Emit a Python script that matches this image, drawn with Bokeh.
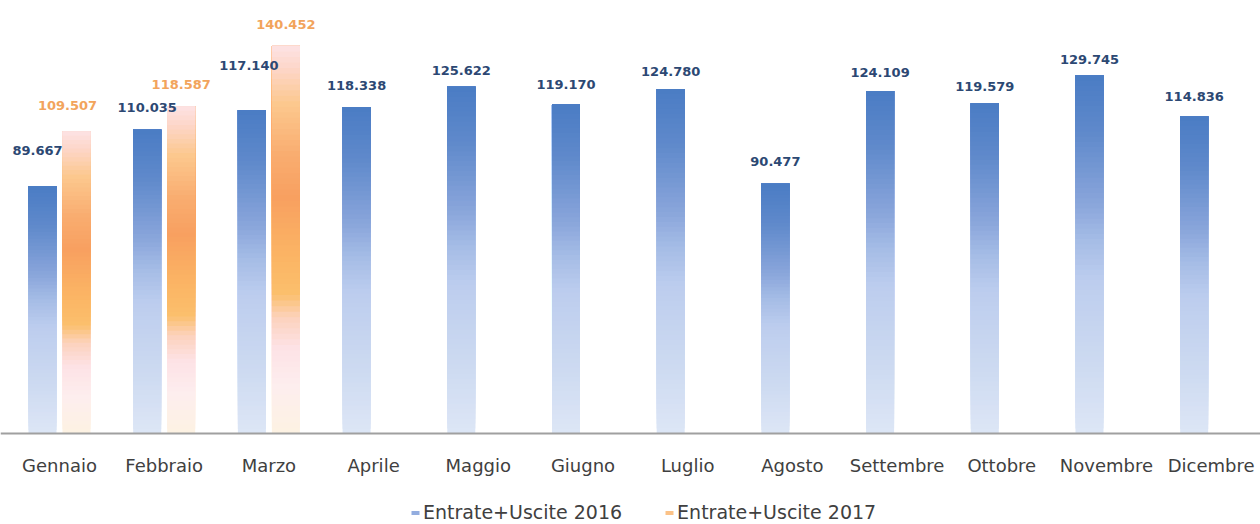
import numpy as np
from bokeh.plotting import figure
from bokeh.models import (ColumnDataSource, FixedTicker, Legend, LegendItem,
                          Range1d, LabelSet)
from bokeh.core.properties import value
from bokeh.embed import file_html
from bokeh.resources import INLINE

# ---------------- data ----------------
months = ["Gennaio", "Febbraio", "Marzo", "Aprile", "Maggio", "Giugno",
          "Luglio", "Agosto", "Settembre", "Ottobre", "Novembre", "Dicembre"]
values_2016 = [89667, 110035, 117140, 118338, 125622, 119170,
               124780, 90477, 124109, 119579, 129745, 114836]
values_2017 = [109507, 118587, 140452]
series_names = ["Entrate+Uscite 2016", "Entrate+Uscite 2017"]

# ---------------- styles ----------------
blue_stops = [(0.00, "#dde6f6"), (0.23, "#cad8f0"), (0.43, "#bccdee"),
              (0.54, "#a5bce6"), (0.64, "#8aa6db"), (0.84, "#5f89cb"),
              (1.00, "#4a7cc4")]
orange_stops = [(0.00, "#fdf2e2"), (0.12, "#fdeeee"), (0.22, "#fde2e6"),
                (0.30, "#fcd2bc"), (0.36, "#fbbf6c"), (0.46, "#fbb464"),
                (0.61, "#f8a060"), (0.72, "#f9ad70"), (0.85, "#fcc88e"),
                (0.94, "#fdd6c8"), (1.00, "#fde2e4")]
blue_label_dy = [36, 22, 45, 21, 16, 20, 18, 22, 18, 17, 16, 20]
blue_label_dx = [-5, 0, -3, 0, 0, 0, 0, 0, 0, 0, 0, 0]
orange_label_dy = [26, 22, 21]
orange_label_dx = [-9, 0, 0]
BAR_W = 0.2675
OFFSET = 0.1624
NSEG = 70


def hex2rgb(h):
    h = h.lstrip("#")
    return np.array([int(h[i:i + 2], 16) for i in (0, 2, 4)], dtype=float)


def interp_color(stops, f):
    for (f0, c0), (f1, c1) in zip(stops[:-1], stops[1:]):
        if f0 <= f <= f1:
            t = 0 if f1 == f0 else (f - f0) / (f1 - f0)
            c = hex2rgb(c0) * (1 - t) + hex2rgb(c1) * t
            return "#%02x%02x%02x" % tuple(int(round(v)) for v in c)
    return stops[-1][1]


def gradient_source(xs, vals, stops):
    d = dict(x=[], top=[], bottom=[], color=[])
    for x, v in zip(xs, vals):
        for k in range(NSEG):
            d["x"].append(x)
            d["bottom"].append(v * k / NSEG)
            d["top"].append(v)
            d["color"].append(interp_color(stops, (k + 0.5) / NSEG))
    return ColumnDataSource(d)


def fmt(v):
    return f"{v:,}".replace(",", ".")


x2016 = [i - OFFSET for i in range(len(values_2016))]
x2017 = [i + OFFSET for i in range(len(values_2017))]

# frame spans the whole canvas; the value axis zero sits 433 px from the top
p = figure(width=1260, height=524, output_backend="svg", toolbar_location=None,
           x_range=Range1d(-0.5635, 11.471), y_range=Range1d(-32970, 156880),
           min_border=0, y_axis_location=None)
p.outline_line_color = None
p.xgrid.visible = False
p.ygrid.visible = False
p.background_fill_color = "white"
p.border_fill_color = "white"

src_b = gradient_source(x2016, values_2016, blue_stops)
src_o = gradient_source(x2017, values_2017, orange_stops)
rb = p.vbar(x="x", top="top", bottom="bottom", width=BAR_W, source=src_b,
            fill_color="color", line_color=None)
ro = p.vbar(x="x", top="top", bottom="bottom", width=BAR_W, source=src_o,
            fill_color="color", line_color=None)

# value labels
lab_b = ColumnDataSource(dict(x=x2016, y=values_2016,
                              t=[fmt(v) for v in values_2016],
                              dy=blue_label_dy, dx=blue_label_dx))
lab_o = ColumnDataSource(dict(x=x2017, y=values_2017,
                              t=[fmt(v) for v in values_2017],
                              dy=orange_label_dy, dx=orange_label_dx))
for src, col in ((lab_b, "#2c4873"), (lab_o, "#f2a45c")):
    p.add_layout(LabelSet(x="x", y="y", text="t", source=src,
                          x_offset="dx", y_offset="dy",
                          text_align="center", text_baseline="middle",
                          text_font=value("DejaVu Sans"),
                          text_font_style="bold",
                          text_font_size="13px", text_color=col))

# category axis drawn at value 0
ax = p.xaxis[0]
ax.fixed_location = 0
ax.ticker = FixedTicker(ticks=list(range(len(months))))
ax.major_label_overrides = {i: m for i, m in enumerate(months)}
ax.axis_line_color = "#a0a0a0"
ax.axis_line_width = 2
ax.major_tick_line_color = None
ax.minor_tick_line_color = None
ax.major_label_text_font = "DejaVu Sans"
ax.major_label_text_font_size = "18px"
ax.major_label_text_color = "#404040"
ax.major_label_standoff = 15

# legend under the axis labels
legend = Legend(items=[
    LegendItem(label=series_names[0], renderers=[rb], index=int(NSEG * 0.6)),
    LegendItem(label=series_names[1], renderers=[ro], index=int(NSEG * 0.82))],
    orientation="horizontal", location=(410, 1),
    label_text_font="DejaVu Sans", label_text_font_size="19px",
    label_text_color="#404040", glyph_width=10, glyph_height=5,
    label_height=20, spacing=42, padding=0, margin=0,
    border_line_color=None, label_standoff=3, background_fill_alpha=0)
p.add_layout(legend, "center")

open("out.html", "w").write(file_html(p, INLINE))
